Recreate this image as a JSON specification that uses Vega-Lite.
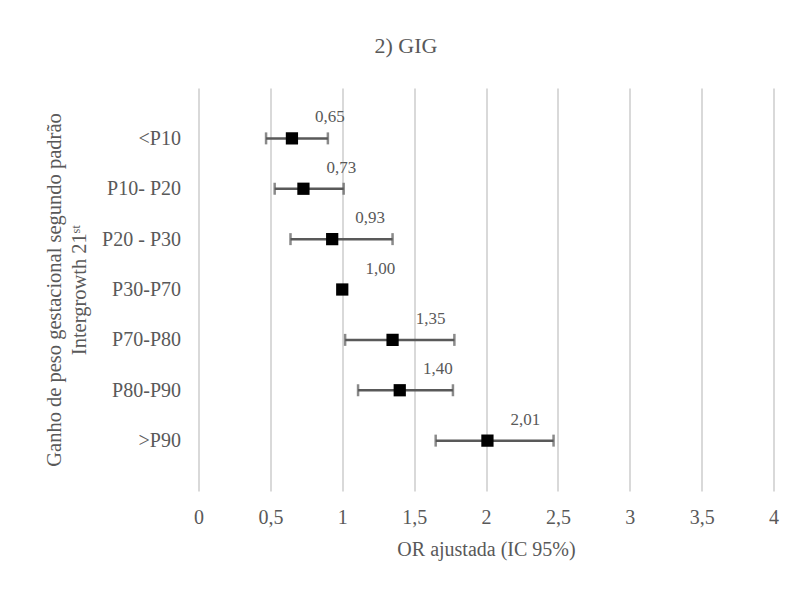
{
  "$schema": "https://vega.github.io/schema/vega-lite/v6.json",
  "width": 575,
  "height": 403,
  "autosize": {"type": "none"},
  "padding": {"left": 198.5, "top": 88, "right": 37.5, "bottom": 102},
  "background": "white",
  "title": {
    "text": "2) GIG",
    "font": "Liberation Serif",
    "fontSize": 22,
    "fontWeight": "normal",
    "color": "#595959",
    "offset": 30,
    "dx": -80
  },
  "config": {
    "view": {"stroke": null},
    "font": "Liberation Serif",
    "locale": {"number": {"decimal": ",", "thousands": ".", "grouping": [3], "currency": ["", ""]}}
  },
  "data": {
    "values": [
      {"cat": "<P10", "or": 0.65, "lo": 0.47, "hi": 0.90},
      {"cat": "P10- P20", "or": 0.73, "lo": 0.53, "hi": 1.01},
      {"cat": "P20 - P30", "or": 0.93, "lo": 0.64, "hi": 1.35},
      {"cat": "P30-P70", "or": 1.00, "lo": null, "hi": null},
      {"cat": "P70-P80", "or": 1.35, "lo": 1.02, "hi": 1.78},
      {"cat": "P80-P90", "or": 1.40, "lo": 1.11, "hi": 1.77},
      {"cat": ">P90", "or": 2.01, "lo": 1.65, "hi": 2.47}
    ]
  },
  "encoding": {
    "y": {
      "field": "cat",
      "type": "nominal",
      "sort": ["<P10", "P10- P20", "P20 - P30", "P30-P70", "P70-P80", "P80-P90", ">P90"],
      "scale": {"type": "point", "padding": 1},
      "axis": {
        "title": ["Ganho de peso gestacional segundo padrão", "Intergrowth 21ˢᵗ"],
        "titleFont": "Liberation Serif",
        "titleFontSize": 20.5,
        "titleFontWeight": "normal",
        "titleColor": "#595959",
        "titleLineHeight": 25,
        "titlePadding": 12,
        "labelFont": "Liberation Serif",
        "labelFontSize": 20,
        "labelColor": "#595959",
        "labelPadding": 18,
        "domain": false,
        "ticks": false,
        "grid": false
      }
    }
  },
  "layer": [
    {
      "mark": {"type": "rule", "color": "#595959", "strokeWidth": 2.5},
      "encoding": {
        "x": {
          "field": "lo",
          "type": "quantitative",
          "scale": {"domain": [0, 4], "nice": false},
          "axis": {
            "title": "OR ajustada (IC 95%)",
            "values": [0, 0.5, 1, 1.5, 2, 2.5, 3, 3.5, 4],
            "format": "~g",
            "titleFont": "Liberation Serif",
            "titleFontSize": 20,
            "titleFontWeight": "normal",
            "titleColor": "#595959",
            "titlePadding": 12,
            "labelFont": "Liberation Serif",
            "labelFontSize": 20,
            "labelColor": "#595959",
            "labelPadding": 16,
            "labelFlush": false,
            "domain": false,
            "ticks": false,
            "grid": true,
            "gridColor": "#d9d9d9",
            "gridWidth": 2
          }
        },
        "x2": {"field": "hi"}
      }
    },
    {
      "mark": {"type": "tick", "color": "#595959", "thickness": 2.5, "size": 12, "orient": "vertical"},
      "encoding": {"x": {"field": "lo", "type": "quantitative"}}
    },
    {
      "mark": {"type": "tick", "color": "#595959", "thickness": 2.5, "size": 12, "orient": "vertical"},
      "encoding": {"x": {"field": "hi", "type": "quantitative"}}
    },
    {
      "mark": {"type": "point", "shape": "square", "filled": true, "size": 150, "color": "black", "opacity": 1},
      "encoding": {"x": {"field": "or", "type": "quantitative"}}
    },
    {
      "mark": {"type": "text", "font": "Liberation Serif", "fontSize": 17, "color": "#595959", "dx": 38, "dy": -21},
      "encoding": {
        "x": {"field": "or", "type": "quantitative"},
        "text": {"field": "or", "type": "quantitative", "format": ".2f"}
      }
    }
  ]
}
